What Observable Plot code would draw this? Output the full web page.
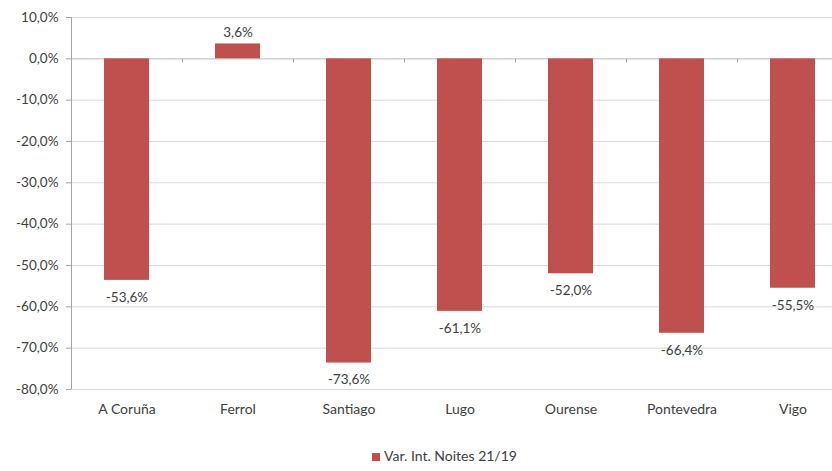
<!DOCTYPE html>
<html><head><meta charset="utf-8">
<script src="https://cdn.jsdelivr.net/npm/d3@7"></script>
<script src="https://cdn.jsdelivr.net/npm/@observablehq/plot@0.6"></script>
<style>
body{margin:0;background:#fff;font-family:Lato,"Liberation Sans",sans-serif;overflow:hidden;}
#legend{height:26px;line-height:22px;padding-left:71px;padding-right:14px;text-align:center;font-size:14px;color:#404040;}
#legend span.sw{display:inline-block;width:8px;height:8px;background:#C0504D;margin-right:4px;vertical-align:0px;}
</style></head><body>
<div id="chart"></div>
<div id="legend"><span class="sw"></span>Var. Int. Noites 21/19</div>
<script>
const categories = ["A Coruña","Ferrol","Santiago","Lugo","Ourense","Pontevedra","Vigo"];
const values = [-53.6, 3.6, -73.6, -61.1, -52.0, -66.4, -55.5];
const yTicks = [10,0,-10,-20,-30,-40,-50,-60,-70,-80];
const seriesName = "Var. Int. Noites 21/19";

const data = categories.map((c,i)=>({cat:c, v:values[i]}));
const fmt = d => d.toFixed(1).replace(".", ",") + "%";
const W = 832, H = 445, mL = 71, mR = -16;
const step = (W - mL - mR) / categories.length;
const first = [categories[0]];

const chart = Plot.plot({
  width: W, height: H,
  marginLeft: mL, marginRight: mR, marginTop: 17, marginBottom: H - 389,
  style: {fontFamily: "Lato, 'Liberation Sans', sans-serif", fontSize: "13px", color: "#404040", overflow: "hidden"},
  x: {domain: categories, padding: 0, label: null},
  y: {domain: [-80, 10], label: null},
  marks: [
    Plot.ruleY(yTicks, {stroke: "#d9d9d9", strokeWidth: 1}),
    Plot.ruleY([0], {stroke: "#c8c8c8", strokeWidth: 1}),
    Plot.barY(data, {x: "cat", y: "v", fill: "#C0504D", insetLeft: 33, insetRight: 33}),
    Plot.ruleX(categories, {x: d => d, y1: 0, y2: 0, insetBottom: -4, dx: -step/2, stroke: "#a6a6a6"}),
    Plot.ruleX(first, {x: d => d, y1: 10, y2: -80, dx: -step/2, stroke: "#a6a6a6"}),
    Plot.text(data, {x: "cat", y: "v", text: d => fmt(d.v),
      filter: d => d.v >= 0, dy: -11, fill: "#404040", fontSize: 13.5}),
    Plot.text(data, {x: "cat", y: "v", text: d => fmt(d.v),
      filter: d => d.v < 0, dy: 17, fill: "#404040", fontSize: 13.5}),
    Plot.axisY({ticks: yTicks, tickFormat: fmt, tickSize: 5, tickPadding: 8, stroke: "#a6a6a6", fill: "#404040", fontSize: 13.5}),
    Plot.axisX({tickSize: 0, tickPadding: 15, fill: "#404040", fontSize: 14})
  ]
});
document.getElementById("chart").appendChild(chart);
</script>
</body></html>
